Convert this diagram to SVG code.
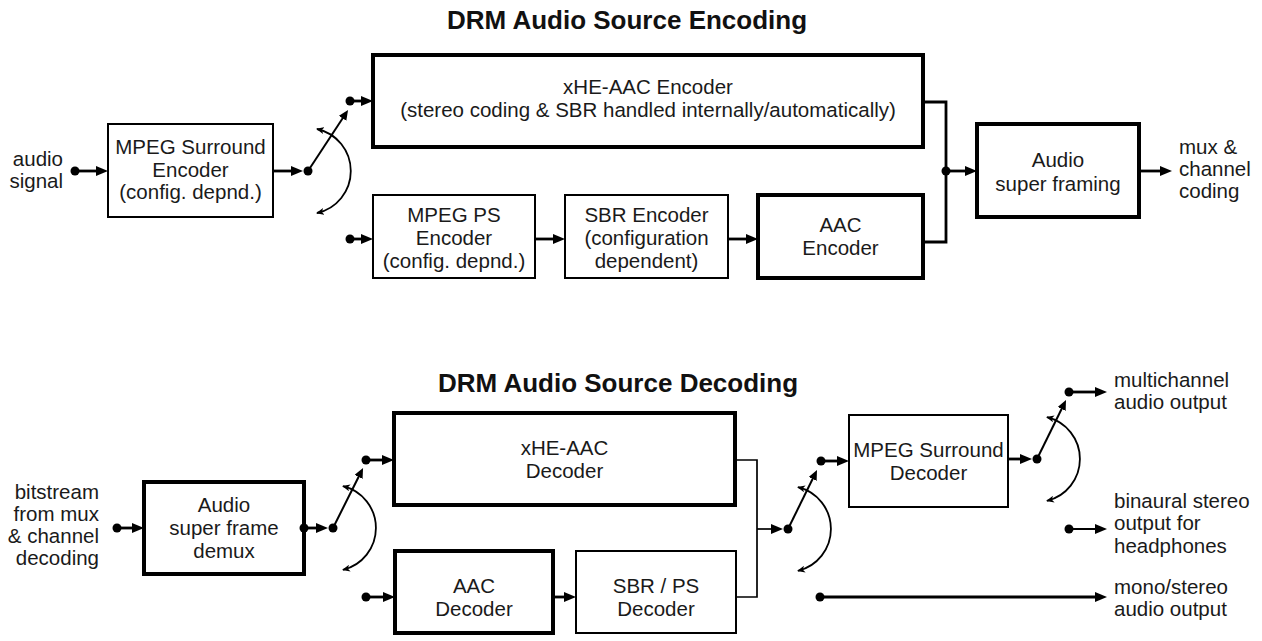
<svg xmlns="http://www.w3.org/2000/svg" width="1262" height="641" viewBox="0 0 1262 641">
  <defs>
    <style>
      .box{fill:#fff;stroke:#000}
      .thick{stroke-width:4}
      .thin{stroke-width:2}
      text{font-family:"Liberation Sans",Arial,Helvetica,sans-serif;font-size:20.5px;fill:#1a1a1a}
      .title{font-weight:bold;font-size:26px;text-anchor:middle;fill:#111}
      .c{text-anchor:middle}
      .r{text-anchor:end}
      .wire{fill:none;stroke:#000;stroke-width:2.8}
      .wire-thin{fill:none;stroke:#000;stroke-width:1.7}
      .sw{fill:none;stroke:#000;stroke-width:2}
      .arc{fill:none;stroke:#000;stroke-width:1.8}
      .dot{fill:#000}
    </style>
    <!-- main arrowhead: tip sits 6px beyond the line end -->
    <marker id="ah" markerUnits="userSpaceOnUse" viewBox="0 0 12 10" markerWidth="12" markerHeight="10" refX="6" refY="5" orient="auto">
      <path d="M0,0 L12,5 L0,10 z" fill="#000"/>
    </marker>
    <!-- switch arm arrowhead: tip sits 5px beyond the line end -->
    <marker id="ahs" markerUnits="userSpaceOnUse" viewBox="0 0 10 9" markerWidth="10" markerHeight="9" refX="5" refY="4.5" orient="auto">
      <path d="M0,0 L10,4.5 L0,9 z" fill="#000"/>
    </marker>
    <!-- small barbs on the switch travel arcs -->
    <marker id="aha" markerUnits="userSpaceOnUse" viewBox="0 0 8 7" markerWidth="8" markerHeight="7" refX="7" refY="3.5" orient="auto-start-reverse">
      <path d="M0,0 L8,3.5 L0,7 L2,3.5 z" fill="#000"/>
    </marker>
  </defs>

  <rect width="1262" height="641" fill="#fff"/>

  <!-- ===== Encoding ===== -->
  <text class="title" x="627" y="29">DRM Audio Source Encoding</text>

  <g id="label-audio-signal">
    <text class="r" x="63" y="166">audio</text>
    <text class="r" x="63" y="188">signal</text>
  </g>

  <g id="mpeg-surround-encoder">
    <rect class="box thin" x="108" y="124" width="165" height="93"/>
    <text class="c" x="190.5" y="154">MPEG Surround</text>
    <text class="c" x="190.5" y="177">Encoder</text>
    <text class="c" x="190.5" y="199">(config. depnd.)</text>
  </g>

  <g id="xhe-aac-encoder">
    <rect class="box thick" x="373" y="55" width="550" height="92"/>
    <text class="c" x="648" y="94">xHE-AAC Encoder</text>
    <text class="c" x="648" y="117">(stereo coding &amp; SBR handled internally/automatically)</text>
  </g>

  <g id="mpeg-ps-encoder">
    <rect class="box thin" x="373" y="195" width="162" height="83"/>
    <text class="c" x="454" y="222">MPEG PS</text>
    <text class="c" x="454" y="245">Encoder</text>
    <text class="c" x="454" y="268">(config. depnd.)</text>
  </g>

  <g id="sbr-encoder">
    <rect class="box thin" x="565" y="195" width="163" height="83"/>
    <text class="c" x="646.5" y="222">SBR Encoder</text>
    <text class="c" x="646.5" y="245">(configuration</text>
    <text class="c" x="646.5" y="268">dependent)</text>
  </g>

  <g id="aac-encoder">
    <rect class="box thick" x="758" y="195" width="165" height="83"/>
    <text class="c" x="840.5" y="232">AAC</text>
    <text class="c" x="840.5" y="255">Encoder</text>
  </g>

  <g id="audio-super-framing">
    <rect class="box thick" x="977" y="124" width="162" height="93"/>
    <text class="c" x="1058" y="167">Audio</text>
    <text class="c" x="1058" y="191">super framing</text>
  </g>

  <g id="label-mux">
    <text x="1179" y="154">mux &amp;</text>
    <text x="1179" y="176">channel</text>
    <text x="1179" y="198">coding</text>
  </g>

  <!-- ===== Decoding ===== -->
  <text class="title" x="618" y="392">DRM Audio Source Decoding</text>

  <g id="label-bitstream">
    <text class="r" x="99" y="499">bitstream</text>
    <text class="r" x="99" y="521">from mux</text>
    <text class="r" x="99" y="543">&amp; channel</text>
    <text class="r" x="99" y="565">decoding</text>
  </g>

  <g id="super-frame-demux">
    <rect class="box thick" x="144" y="482" width="160" height="92"/>
    <text class="c" x="224" y="512">Audio</text>
    <text class="c" x="224" y="535">super frame</text>
    <text class="c" x="224" y="558">demux</text>
  </g>

  <g id="xhe-aac-decoder">
    <rect class="box thick" x="394" y="413" width="341" height="92"/>
    <text class="c" x="564.5" y="455">xHE-AAC</text>
    <text class="c" x="564.5" y="478">Decoder</text>
  </g>

  <g id="aac-decoder">
    <rect class="box thick" x="395" y="551" width="158" height="82"/>
    <text class="c" x="474" y="593">AAC</text>
    <text class="c" x="474" y="616">Decoder</text>
  </g>

  <g id="sbr-ps-decoder">
    <rect class="box thin" x="576" y="551" width="160" height="82"/>
    <text class="c" x="656" y="593">SBR / PS</text>
    <text class="c" x="656" y="616">Decoder</text>
  </g>

  <g id="mpeg-surround-decoder">
    <rect class="box thin" x="849" y="415" width="159" height="92"/>
    <text class="c" x="928.5" y="457">MPEG Surround</text>
    <text class="c" x="928.5" y="480">Decoder</text>
  </g>

  <g id="label-multichannel">
    <text x="1114" y="387">multichannel</text>
    <text x="1114" y="409">audio output</text>
  </g>
  <g id="label-binaural">
    <text x="1114" y="508">binaural stereo</text>
    <text x="1114" y="530">output for</text>
    <text x="1114" y="553">headphones</text>
  </g>
  <g id="label-mono-stereo">
    <text x="1114" y="594">mono/stereo</text>
    <text x="1114" y="616">audio output</text>
  </g>

  <!-- ===== Connectors ===== -->
  <g id="connectors">
    <!-- encoder input and surround stage -->
    <circle class="dot" cx="75" cy="171" r="4.5"/>
    <line class="wire" x1="75" y1="171" x2="102" y2="171" marker-end="url(#ah)"/>
    <line class="wire" x1="273" y1="171" x2="297" y2="171" marker-end="url(#ah)"/>
    <circle class="dot" cx="308" cy="171" r="4.5"/>
    <line class="sw" x1="308" y1="171" x2="345.3" y2="114.2" marker-end="url(#ahs)"/>
    <path class="arc" d="M317,129 A43,43 0 0 1 317,213" marker-start="url(#aha)" marker-end="url(#aha)"/>
    <circle class="dot" cx="350" cy="101" r="4.5"/>
    <line class="wire" x1="350" y1="101" x2="367" y2="101" marker-end="url(#ah)"/>
    <circle class="dot" cx="350" cy="239" r="4.5"/>
    <line class="wire" x1="350" y1="239" x2="367" y2="239" marker-end="url(#ah)"/>
    <line class="wire" x1="535" y1="239" x2="559" y2="239" marker-end="url(#ah)"/>
    <line class="wire" x1="728" y1="239" x2="752" y2="239" marker-end="url(#ah)"/>
    <!-- encoder merge into super framing -->
    <path class="wire" d="M923,102 H946 V242 H923"/>
    <circle class="dot" cx="946" cy="171" r="4.5"/>
    <line class="wire" x1="946" y1="171" x2="971" y2="171" marker-end="url(#ah)"/>
    <line class="wire" x1="1139" y1="171" x2="1166" y2="171" marker-end="url(#ah)"/>

    <!-- decoder input and demux switch -->
    <circle class="dot" cx="117" cy="528" r="4.5"/>
    <line class="wire" x1="117" y1="528" x2="138" y2="528" marker-end="url(#ah)"/>
    <circle class="dot" cx="304" cy="528" r="4.5"/>
    <line class="wire" x1="304" y1="528" x2="322" y2="528" marker-end="url(#ah)"/>
    <circle class="dot" cx="333" cy="528" r="4.5"/>
    <line class="sw" x1="333" y1="528" x2="360.8" y2="472.5" marker-end="url(#ahs)"/>
    <path class="arc" d="M343,486.2 A43,43 0 0 1 343,569.8" marker-start="url(#aha)" marker-end="url(#aha)"/>
    <circle class="dot" cx="366" cy="460" r="4.5"/>
    <line class="wire" x1="366" y1="460" x2="388" y2="460" marker-end="url(#ah)"/>
    <circle class="dot" cx="366" cy="597" r="4.5"/>
    <line class="wire" x1="366" y1="597" x2="389" y2="597" marker-end="url(#ah)"/>
    <line class="wire" x1="553" y1="597" x2="570" y2="597" marker-end="url(#ah)"/>

    <!-- decoder merge and surround switch -->
    <path class="wire-thin" d="M735,460 H757 V597 H736"/>
    <line class="wire-thin" x1="757" y1="529" x2="777" y2="529" marker-end="url(#ah)"/>
    <circle class="dot" cx="788" cy="529" r="4.5"/>
    <line class="sw" x1="788" y1="529" x2="814.8" y2="474.5" marker-end="url(#ahs)"/>
    <path class="arc" d="M798,487.2 A43,43 0 0 1 798,570.8" marker-start="url(#aha)" marker-end="url(#aha)"/>
    <circle class="dot" cx="821" cy="461" r="4.5"/>
    <line class="wire" x1="821" y1="461" x2="843" y2="461" marker-end="url(#ah)"/>
    <circle class="dot" cx="820" cy="597" r="4.5"/>
    <line class="wire" x1="820" y1="597" x2="1101" y2="597" marker-end="url(#ah)"/>

    <!-- surround decoder output switch -->
    <line class="wire" x1="1008" y1="459" x2="1026" y2="459" marker-end="url(#ah)"/>
    <circle class="dot" cx="1037" cy="459" r="4.5"/>
    <line class="sw" x1="1037" y1="459" x2="1063.8" y2="404.5" marker-end="url(#ahs)"/>
    <path class="arc" d="M1047,417.2 A43,43 0 0 1 1047,500.8" marker-start="url(#aha)" marker-end="url(#aha)"/>
    <circle class="dot" cx="1069" cy="392" r="4.5"/>
    <line class="wire" x1="1069" y1="392" x2="1101" y2="392" marker-end="url(#ah)"/>
    <circle class="dot" cx="1069" cy="529" r="4.5"/>
    <line class="sw" x1="1069" y1="529" x2="1101" y2="529" marker-end="url(#ah)"/>
  </g>
</svg>
